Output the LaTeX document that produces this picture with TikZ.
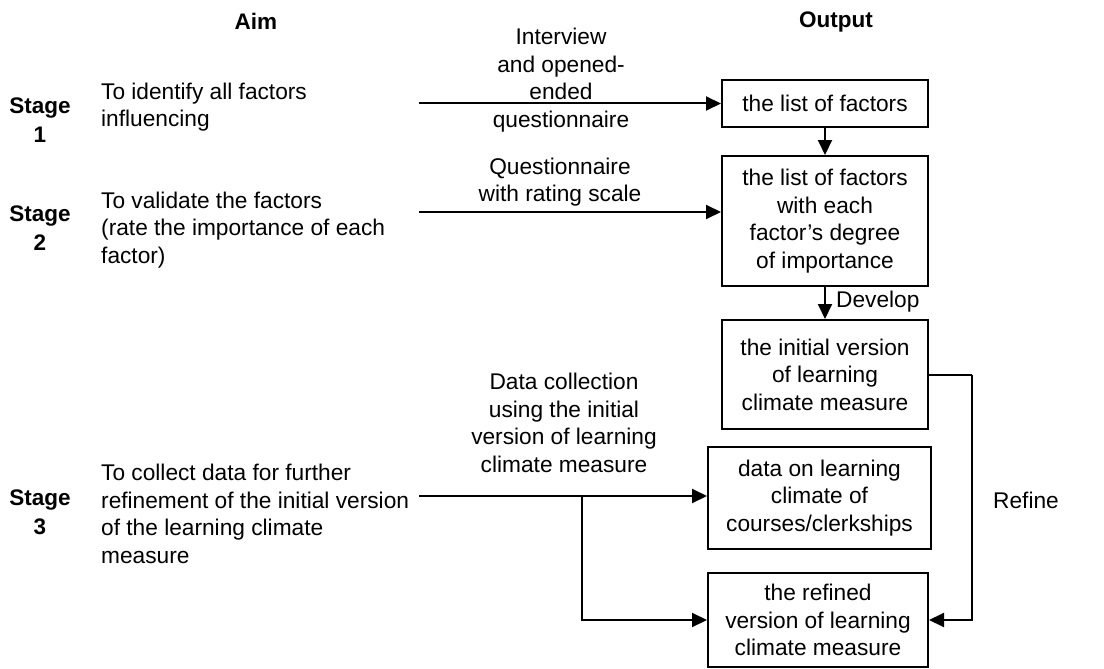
\documentclass[tikz,border=0pt]{standalone}
\usepackage{fontspec}
\setmainfont{Liberation Sans}
\usetikzlibrary{arrows.meta,calc}
\tikzset{
  base/.style={font=\fontsize{22.7}{27.5}\selectfont, inner sep=0pt},
  hdr/.style={base, font=\fontsize{22.5}{29}\selectfont\bfseries},
  aimtxt/.style={base, anchor=west, align=left},
  midtxt/.style={base, align=center},
  outbox/.style={draw, line width=2pt, base, align=center, inner sep=0pt},
  conn/.style={line width=2pt, -{Triangle[length=15pt,width=14pt]}},
  plain/.style={line width=2pt}
}
\begin{document}
\begin{tikzpicture}[x=1pt,y=-1pt]
\useasboundingbox (0,0) rectangle (1104,669);
% headers
\node[hdr] (aimh) at (256,21) {Aim};
\node[hdr] (outh) at (836,22) {Output};
% stage labels
\node[hdr, align=center] (st1) at (40,120) {Stage\\1};
\node[hdr, align=center] (st2) at (40,228) {Stage\\2};
\node[hdr, align=center] (st3) at (40,512) {Stage\\3};
% aims
\node[aimtxt] (a1) at (101,107) {To identify all factors\\influencing};
\node[aimtxt] (a2) at (101,230) {To validate the factors\\(rate the importance of each\\factor)};
\node[aimtxt] (a3) at (101,514) {To collect data for further\\refinement of the initial version\\of the learning climate\\measure};
% method labels
\node[midtxt] (m1) at (561,80) {Interview\\and opened-\\ended\\questionnaire};
\node[midtxt] (m2) at (560,182) {Questionnaire\\with rating scale};
\node[midtxt] (m3) at (564,423) {Data collection\\using the initial\\version of learning\\climate measure};
% output boxes
\node[outbox, minimum width=206pt, minimum height=47pt] (b1) at (825,103.5) {the list of factors};
\node[outbox, minimum width=206pt, minimum height=130pt] (b2) at (825,221) {the list of factors\\with each\\factor’s degree\\of importance};
\node[outbox, minimum width=206pt, minimum height=109pt] (b3) at (825,374.5) {the initial version\\of learning\\climate measure};
\node[outbox, minimum width=223pt, minimum height=102pt] (b4) at (819.5,498) {data on learning\\climate of\\courses/clerkships};
\node[outbox, minimum width=220pt, minimum height=94pt] (b5) at (818,620) {the refined\\version of learning\\climate measure};
% coordinates
\coordinate (s1) at (419,103.5);
\coordinate (s2) at (419,212);
\coordinate (s3) at (419,496);
\coordinate (br) at (582,496);
\coordinate (rx) at (972,0);
% connectors
\draw[conn] (s1) -- (s1 -| b1.west);
\draw[conn] (s2) -- (s2 -| b2.west);
\draw[conn] (s3) -- (s3 -| b4.west);
\draw[conn] (br) |- (b5.west);
\draw[conn] (b1.south) -- (b2.north);
\draw[conn] (b2.south) -- (b3.north);
\node[base, anchor=west] (dev) at (836,302) {Develop};
\draw[plain] (b3.east) -- (b3.east -| rx) coordinate (rtop);
\draw[conn] (rtop) |- (b5.east);
\node[base, anchor=west] (ref) at (993,500) {Refine};
\end{tikzpicture}
\end{document}
